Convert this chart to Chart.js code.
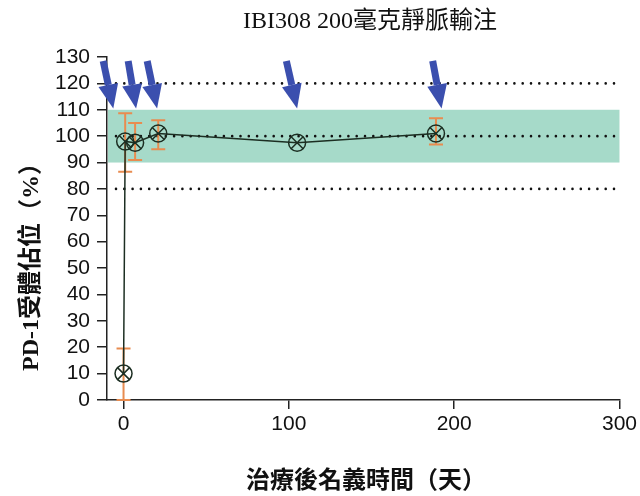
<!DOCTYPE html>
<html>
<head>
<meta charset="utf-8">
<script src="https://cdn.jsdelivr.net/npm/chart.js@4.4.0/dist/chart.umd.min.js"></script>
<style>
  html, body { margin: 0; padding: 0; background: #fff; }
  #wrap { width: 640px; height: 496px; }
</style>
</head>
<body>
<div id="wrap"><canvas id="PdChart"></canvas></div>
<script>
// nominal day after treatment, receptor occupancy (%), error bar ends
var days = [0, 1, 7, 21, 105, 189];
var occupancy = [10, 98, 97.5, 101, 97.5, 101];
var errLow = [0, 86.5, 91, 95, null, 96.8];
var errHigh = [19.5, 108.7, 105, 106, null, 106.8];

var xTicks = [0, 100, 200, 300];
var yTicks = [0, 10, 20, 30, 40, 50, 60, 70, 80, 90, 100, 110, 120, 130];

var refLines = [80, 100, 120];
var bandRange = [90, 110];

// dosing arrows: top end and tip (day, %)
var arrowTopDays = [-12.3, 2.8, 14.3, 98.5, 187];
var arrowTipDays = [-6.2, 7.6, 20.3, 105, 192.4];
var arrowTopValue = 128.5;
var arrowTipValue = 110.5;

var titleText = 'IBI308 200毫克靜脈輸注';
var xTitleText = '治療後名義時間（天）';
var yTitleText = 'PD-1受體佔位（%）';

var points = days.map(function (d, i) { return { x: d, y: occupancy[i] }; });

var serifFont = '"Liberation Serif", "Noto Sans CJK TC", serif';

var decorPlugin = {
   id: 'decor',
   beforeDatasetsDraw: function (chart) {
      var ctx = chart.ctx;
      var xs = chart.scales.x, ys = chart.scales.y;
      var area = chart.chartArea;
      ctx.save();
      // target band
      ctx.fillStyle = '#a6dac9';
      var bTop = ys.getPixelForValue(bandRange[1]);
      var bBot = ys.getPixelForValue(bandRange[0]);
      ctx.fillRect(area.left + 1, bTop, area.right - area.left - 1, bBot - bTop);
      // dotted reference lines
      ctx.strokeStyle = '#111';
      ctx.lineWidth = 2.6;
      ctx.lineCap = 'round';
      ctx.setLineDash([0, 8.3]);
      refLines.forEach(function (v) {
         var y = ys.getPixelForValue(v);
         ctx.beginPath();
         ctx.moveTo(area.left + 9, y);
         ctx.lineTo(area.right, y);
         ctx.stroke();
      });
      ctx.setLineDash([]);
      ctx.lineCap = 'butt';
      // error bars
      ctx.strokeStyle = '#e88c50';
      ctx.lineWidth = 2;
      days.forEach(function (d, i) {
         if (errLow[i] == null) return;
         var x = xs.getPixelForValue(d);
         var y1 = ys.getPixelForValue(errLow[i]);
         var y2 = ys.getPixelForValue(errHigh[i]);
         ctx.beginPath();
         ctx.moveTo(x, y1); ctx.lineTo(x, y2);
         ctx.moveTo(x - 7, y1); ctx.lineTo(x + 7, y1);
         ctx.moveTo(x - 7, y2); ctx.lineTo(x + 7, y2);
         ctx.stroke();
      });
      ctx.restore();
   },
   afterDatasetsDraw: function (chart) {
      var ctx = chart.ctx;
      var xs = chart.scales.x, ys = chart.scales.y;
      ctx.save();
      ctx.fillStyle = '#3b4fae';
      ctx.strokeStyle = '#3b4fae';
      arrowTipDays.forEach(function (d, i) {
         var x0 = xs.getPixelForValue(arrowTopDays[i]);
         var y0 = ys.getPixelForValue(arrowTopValue);
         var x1 = xs.getPixelForValue(d);
         var y1 = ys.getPixelForValue(arrowTipValue);
         var ang = Math.atan2(y1 - y0, x1 - x0);
         var headLen = 24, headHalf = 10;
         var bx = x1 - headLen * Math.cos(ang);
         var by = y1 - headLen * Math.sin(ang);
         ctx.lineWidth = 7;
         ctx.beginPath();
         ctx.moveTo(x0, y0);
         ctx.lineTo(bx, by);
         ctx.stroke();
         ctx.beginPath();
         ctx.moveTo(x1, y1);
         ctx.lineTo(bx + headHalf * Math.sin(ang), by - headHalf * Math.cos(ang));
         ctx.lineTo(bx - headHalf * Math.sin(ang), by + headHalf * Math.cos(ang));
         ctx.closePath();
         ctx.fill();
      });
      ctx.restore();
   },
   afterDraw: function (chart) {
      var ctx = chart.ctx;
      ctx.save();
      ctx.fillStyle = '#111';
      ctx.textAlign = 'center';
      ctx.textBaseline = 'middle';
      ctx.font = '24px ' + serifFont;
      ctx.fillText(titleText, 370, 22);
      ctx.font = 'bold 24px ' + serifFont;
      ctx.fillText(xTitleText, 366, 482);
      ctx.translate(32, 261);
      ctx.rotate(-Math.PI / 2);
      ctx.fillText(yTitleText, 0, 0);
      ctx.restore();
   }
};

var tickFont = { family: '"Liberation Sans", Arial, sans-serif', size: 21 };

var pdChart = new Chart(document.getElementById('PdChart').getContext('2d'), {
   type: 'line',
   data: {
      datasets: [{
         data: points,
         borderColor: '#1c2e22',
         borderWidth: 1.5,
         pointStyle: 'circle',
         pointRadius: 8.5,
         pointBorderWidth: 1.5,
         pointBorderColor: '#1c2e22',
         pointBackgroundColor: 'rgba(0,0,0,0)',
         tension: 0
      }, {
         data: points,
         showLine: false,
         pointStyle: 'crossRot',
         pointRadius: 8.5,
         pointBorderWidth: 1.5,
         pointBorderColor: '#1c2e22'
      }]
   },
   options: {
      responsive: true,
      maintainAspectRatio: false,
      animation: false,
      layout: { padding: { left: 0, top: 57, right: 20, bottom: 0 } },
      plugins: {
         legend: { display: false },
         title: { display: false },
         tooltip: { enabled: false }
      },
      scales: {
         x: {
            type: 'linear',
            min: -10,
            max: 300,
            afterBuildTicks: function (scale) {
               scale.ticks = xTicks.map(function (v) { return { value: v }; });
            },
            afterFit: function (scale) { scale.height = 96; },
            grid: { drawOnChartArea: false, drawTicks: true, tickLength: 9, color: '#222', lineWidth: 1.5 },
            border: { display: true, color: '#222', width: 1.5 },
            ticks: { font: tickFont, color: '#111', padding: 3, maxRotation: 0, autoSkip: false }
         },
         y: {
            min: 0,
            max: 130,
            afterBuildTicks: function (scale) {
               scale.ticks = yTicks.map(function (v) { return { value: v }; });
            },
            afterFit: function (scale) { scale.width = 107; },
            grid: { drawOnChartArea: false, drawTicks: true, tickLength: 10, color: '#222', lineWidth: 1.5 },
            border: { display: true, color: '#222', width: 1.5 },
            ticks: { font: tickFont, color: '#111', padding: 7, autoSkip: false }
         }
      }
   },
   plugins: [decorPlugin]
});
</script>
</body>
</html>
